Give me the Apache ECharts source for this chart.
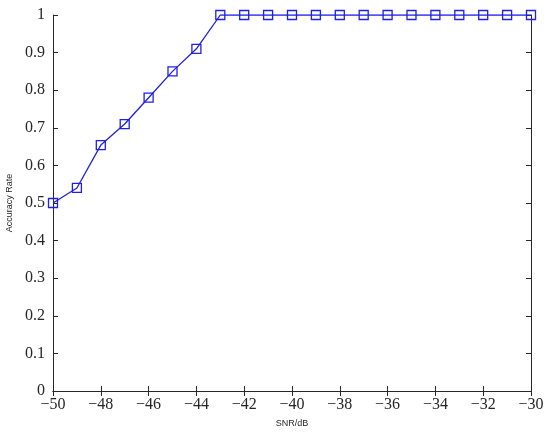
<!DOCTYPE html>
<html><head><meta charset="utf-8">
<script src="https://cdn.jsdelivr.net/npm/echarts@6/dist/echarts.min.js"></script>
<style>html,body{margin:0;padding:0;background:#fff}#c{width:550px;height:433px}</style>
</head><body><div id="c"></div>
<script>
const snr = [-50,-49,-48,-47,-46,-45,-44,-43,-42,-41,-40,-39,-38,-37,-36,-35,-34,-33,-32,-31,-30];
const accuracy = [0.5,0.54,0.654,0.71,0.78,0.85,0.91,1,1,1,1,1,1,1,1,1,1,1,1,1,1];
const xTitle = 'SNR/dB';
const yTitle = 'Accuracy Rate';

const chart = echarts.init(document.getElementById('c'));
const serif = 'Liberation Serif';
const axisLine = {show:true, lineStyle:{color:'#262626', width:1}};
const tick = {show:true, inside:true, length:5, lineStyle:{color:'#262626'}};
chart.setOption({
  animation:false,
  grid:{left:53, right:19, top:15, bottom:42, containLabel:false, outerBoundsMode:'none'},
  xAxis:[{
    type:'value', min:-50, max:-30, interval:2,
    axisLine, axisTick:tick, splitLine:{show:false},
    axisLabel:{color:'#262626', fontFamily:serif, fontSize:16, margin:6,
      formatter:v=>String(v).replace('-','\u2212')},
    name:xTitle, nameLocation:'middle', nameGap:28,
    nameTextStyle:{fontFamily:'Liberation Sans', fontSize:9, color:'#262626'}
  },{
    type:'value', min:-50, max:-30, interval:2, position:'top',
    axisLine, axisTick:tick, axisLabel:{show:false}, splitLine:{show:false}
  }],
  yAxis:[{
    type:'value', min:0, max:1, interval:0.1,
    axisLine, axisTick:tick, splitLine:{show:false},
    axisLabel:{color:'#262626', fontFamily:serif, fontSize:16, margin:8,
      formatter:v=>String(Math.round(v*10)/10)},
    name:yTitle, nameLocation:'middle', nameGap:38,
    nameTextStyle:{fontFamily:'Liberation Sans', fontSize:9, color:'#262626'}
  },{
    type:'value', min:0, max:1, interval:0.1, position:'right',
    axisLine, axisTick:tick, axisLabel:{show:false}, splitLine:{show:false}
  }],
  series:[{
    type:'line',
    data:snr.map((x,i)=>[x,accuracy[i]]),
    symbol:'rect', symbolSize:9,
    itemStyle:{color:'rgba(0,0,0,0)', borderColor:'#1f1fe6', borderWidth:1.3},
    lineStyle:{color:'#1f1fe6', width:1.3},
    z:3
  }]
});
</script></body></html>
